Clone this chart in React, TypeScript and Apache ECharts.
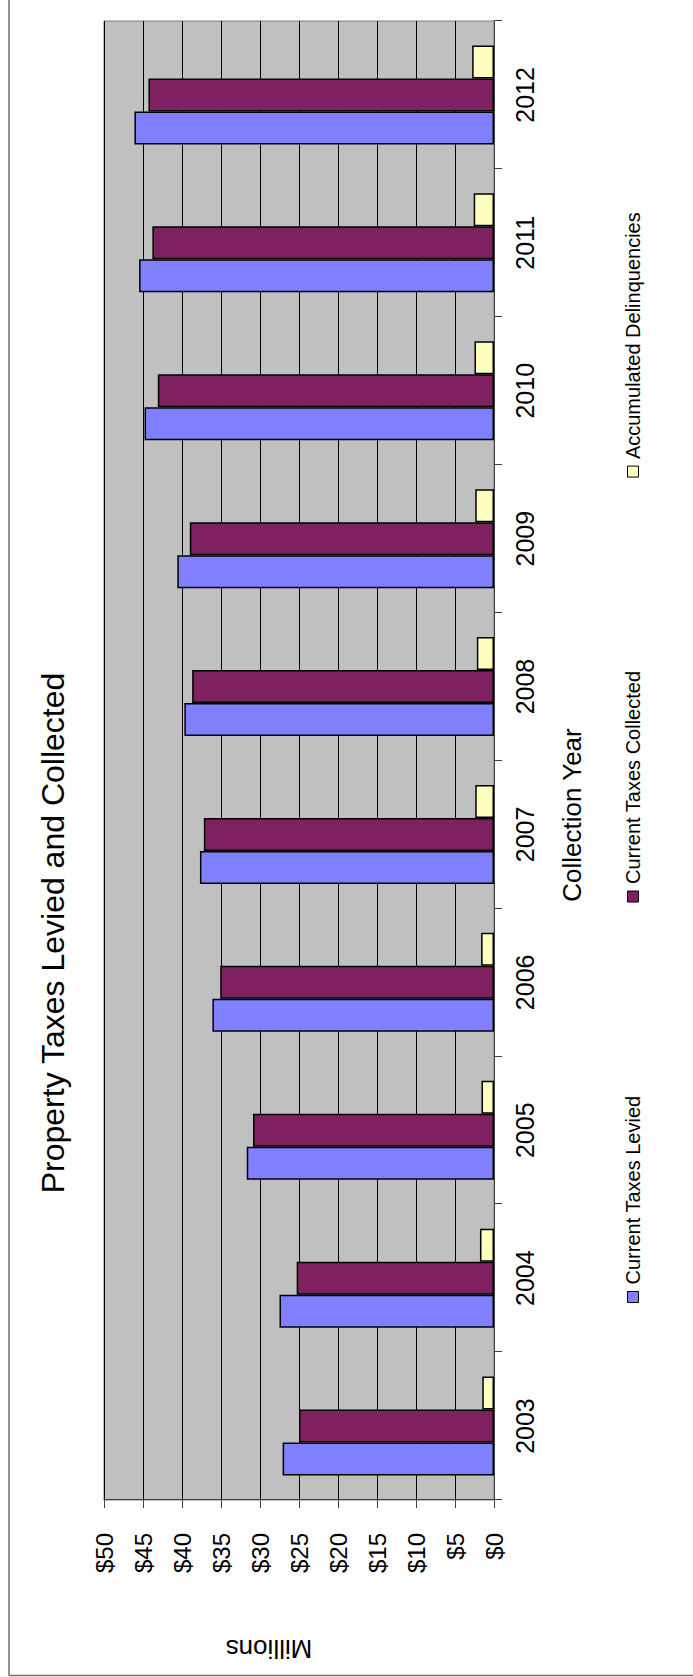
import React, { useEffect, useRef } from "react";
import * as echarts from "echarts";

// Collection years (category axis)
const years = ["2003", "2004", "2005", "2006", "2007", "2008", "2009", "2010", "2011", "2012"];

// Values in millions of dollars
const taxesLevied = [27.1, 27.5, 31.7, 36.1, 37.7, 39.7, 40.6, 44.8, 45.5, 46.1];
const taxesCollected = [25.0, 25.3, 30.9, 35.1, 37.2, 38.7, 39.0, 43.1, 43.8, 44.3];
const delinquencies = [1.5, 1.8, 1.6, 1.65, 2.4, 2.2, 2.4, 2.5, 2.6, 2.8];

const seriesNames = ["Current Taxes Levied", "Current Taxes Collected", "Accumulated Delinquencies"];
const seriesColors = ["#8080FF", "#7F2060", "#FFFFC0"];

const valueMin = 0;
const valueMax = 50;
const valueStep = 5;

const chartTitle = "Property Taxes Levied and Collected";
const categoryAxisTitle = "Collection Year";
const unitLabel = "Millions";

// The chart is laid out landscape and turned a quarter turn counter-clockwise on the page.
const PAGE_W = 693;
const PAGE_H = 1677;
const CHART_W = PAGE_H;
const CHART_H = PAGE_W;

const FONT = "'Liberation Sans', Arial, Helvetica, sans-serif";

export default function App() {
  const ref = useRef<HTMLDivElement>(null);

  useEffect(() => {
    if (!ref.current) return;
    const chart = echarts.init(ref.current, null, {
      renderer: "svg",
      width: CHART_W,
      height: CHART_H,
    });

    const seriesData = [taxesLevied, taxesCollected, delinquencies];

    chart.setOption({
      animation: false,
      backgroundColor: "#ffffff",
      textStyle: { fontFamily: FONT },
      grid: {
        left: 177,
        right: 21,
        top: 104,
        bottom: 199,
        show: true,
        backgroundColor: "#C0C0C0",
        borderColor: "#808080",
        borderWidth: 1,
      },
      legend: {
        data: seriesNames,
        left: 369,
        top: 618,
        itemWidth: 11,
        itemHeight: 11,
        itemGap: 193,
        icon: "rect",
        selectedMode: false,
        textStyle: { fontSize: 20, color: "#000", fontFamily: FONT, padding: [0, 0, 0, 2] },
        itemStyle: { borderColor: "#000", borderWidth: 1 },
      },
      xAxis: {
        type: "category",
        data: years,
        boundaryGap: true,
        axisLine: { show: true, lineStyle: { color: "#404040", width: 1 } },
        axisTick: { show: true, length: 8, alignWithLabel: false, lineStyle: { color: "#404040" } },
        axisLabel: { fontSize: 25, color: "#000", margin: 18, fontFamily: FONT },
        splitLine: { show: false },
      },
      yAxis: {
        type: "value",
        min: valueMin,
        max: valueMax,
        interval: valueStep,
        axisLine: { show: true, lineStyle: { color: "#404040", width: 1 } },
        axisTick: { show: true, length: 8, lineStyle: { color: "#404040" } },
        axisLabel: {
          fontSize: 24,
          color: "#000",
          margin: 33,
          fontFamily: FONT,
          formatter: (v: number) => "$" + v,
        },
        splitLine: { show: true, lineStyle: { color: "#000", width: 1 } },
      },
      series: seriesNames.map((name, i) => ({
        type: "bar",
        name,
        data: seriesData[i],
        barWidth: 33,
        barGap: "0%",
        itemStyle: { color: seriesColors[i], borderColor: "#000", borderWidth: 1.5 },
      })),
      graphic: [
        {
          type: "line",
          shape: { x1: 1.5, y1: 9, x2: CHART_W, y2: 9 },
          style: { stroke: "#707070", lineWidth: 1.5 },
        },
        {
          type: "line",
          shape: { x1: 1.5, y1: 9, x2: 1.5, y2: CHART_H },
          style: { stroke: "#707070", lineWidth: 1.5 },
        },
        {
          type: "text",
          x: 744,
          y: 53,
          style: {
            text: chartTitle,
            fontSize: 32,
            fontFamily: FONT,
            fill: "#000",
            textAlign: "center",
            textVerticalAlign: "middle",
          },
        },
        {
          type: "text",
          x: 862,
          y: 572,
          style: {
            text: categoryAxisTitle,
            fontSize: 26,
            fontFamily: FONT,
            fill: "#000",
            textAlign: "center",
            textVerticalAlign: "middle",
          },
        },
        {
          type: "text",
          x: 28.5,
          y: 269,
          rotation: Math.PI / 2,
          style: {
            text: unitLabel,
            fontSize: 26,
            fontFamily: FONT,
            fill: "#000",
            textAlign: "center",
            textVerticalAlign: "middle",
          },
        },
      ],
    });

    return () => chart.dispose();
  }, []);

  return (
    <div
      style={{
        position: "absolute",
        left: 0,
        top: 0,
        width: PAGE_W,
        height: PAGE_H,
        overflow: "hidden",
        background: "#ffffff",
      }}
    >
      <div
        ref={ref}
        style={{
          position: "absolute",
          left: 0,
          top: 0,
          width: CHART_W,
          height: CHART_H,
          transformOrigin: "0 0",
          transform: `translateY(${PAGE_H}px) rotate(-90deg)`,
        }}
      />
    </div>
  );
}
